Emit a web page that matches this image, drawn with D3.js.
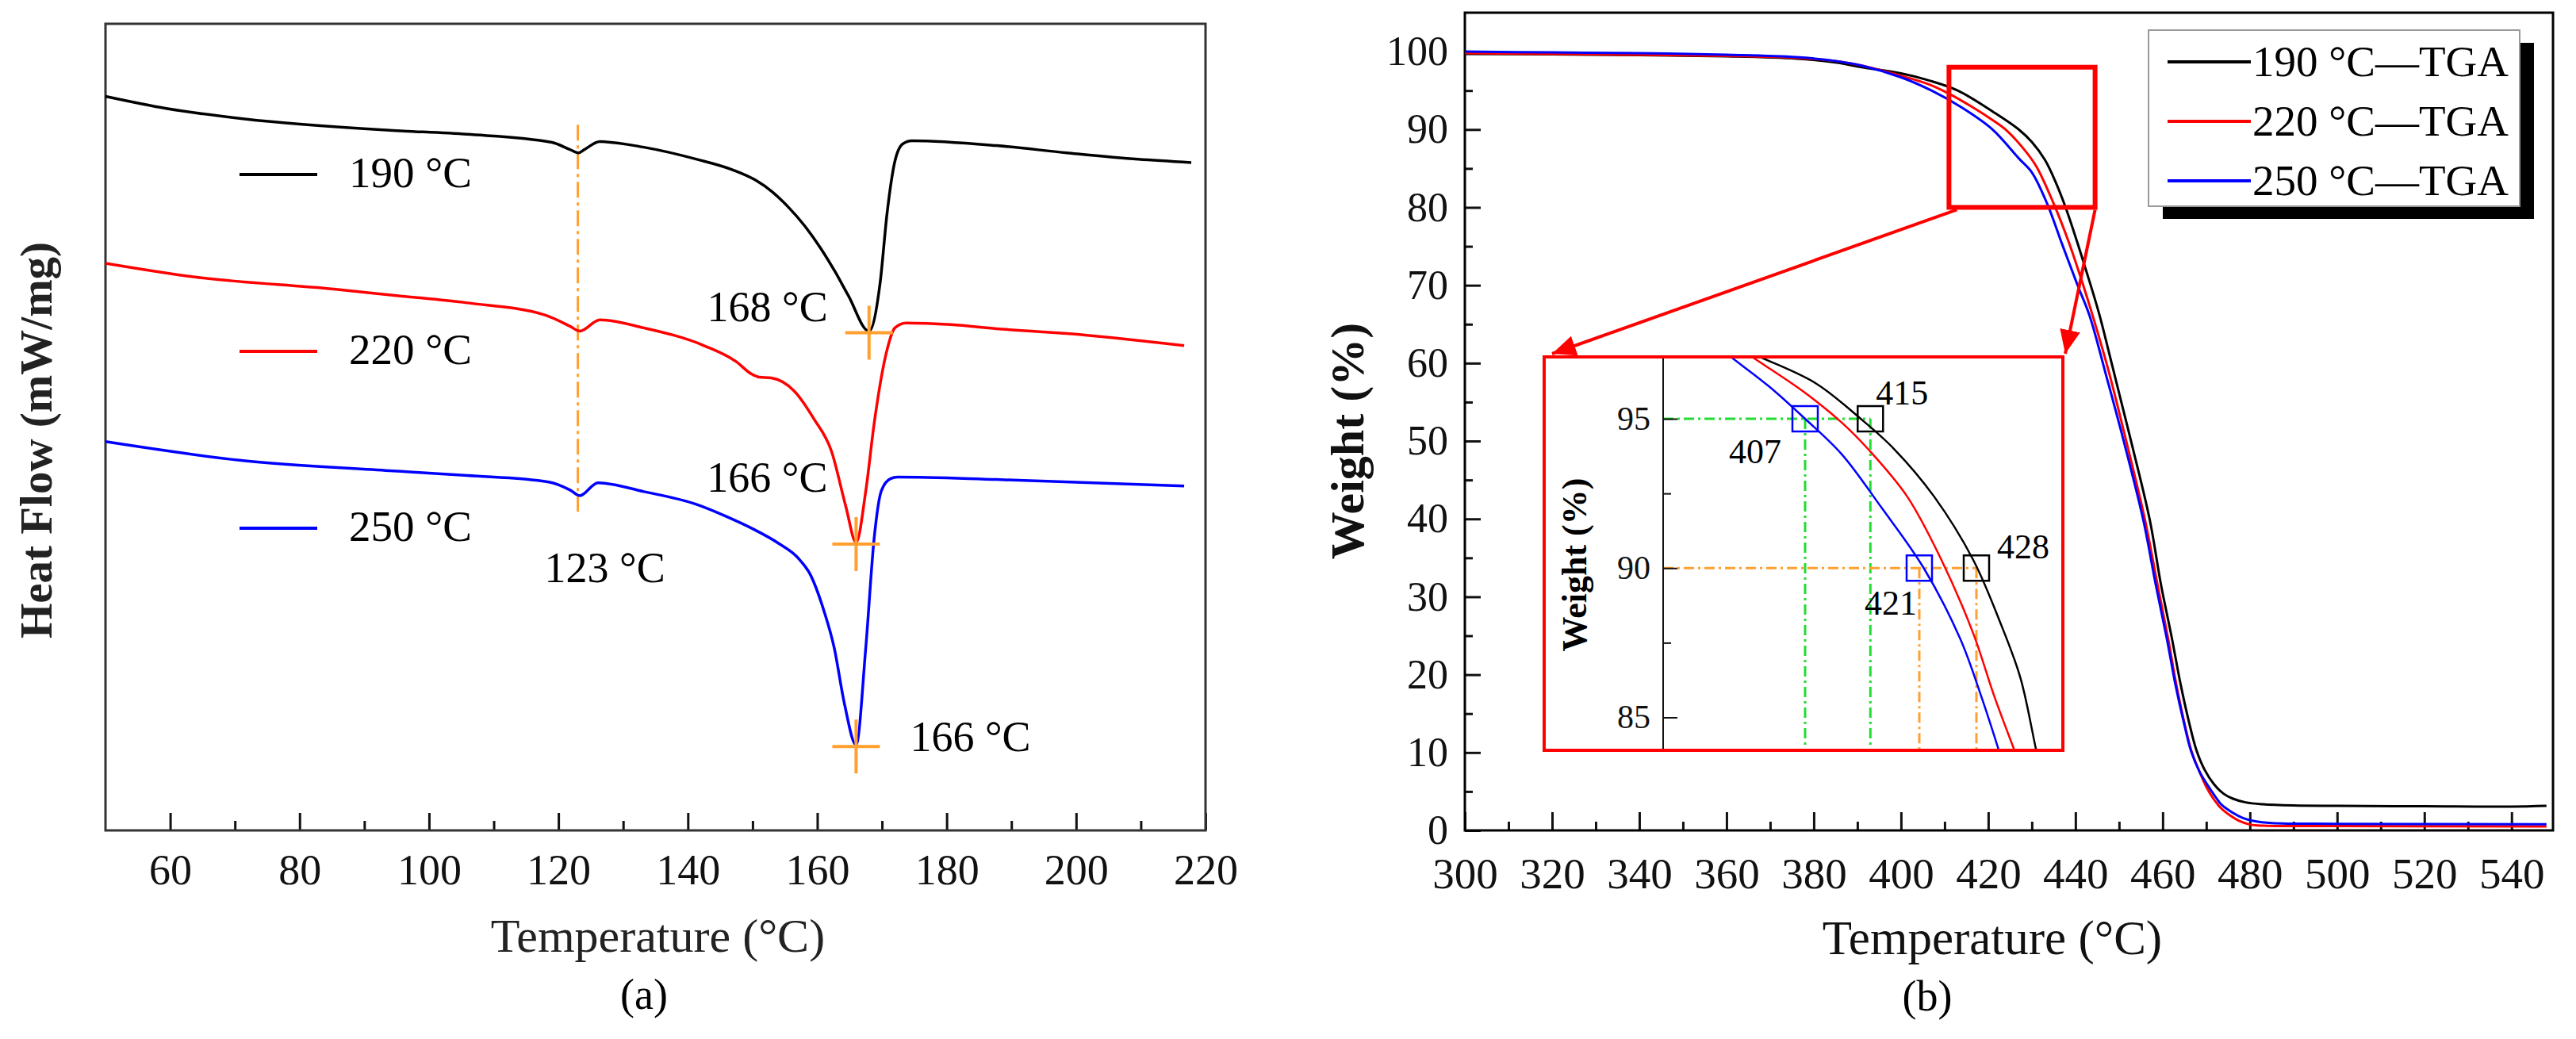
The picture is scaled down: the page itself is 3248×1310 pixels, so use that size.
<!DOCTYPE html>
<html>
<head>
<meta charset="utf-8">
<script src="https://cdn.jsdelivr.net/npm/d3@7"></script>
<style>
  body { margin: 0; background: #fff; }
</style>
</head>
<body>
<div id="chart"></div>
<script>
'use strict';

// ---------- (a) DSC: [temperature (°C), heat flow (arb. units)]
var dsc190 = [[50,91.0],[59.4,89.5],[71.5,88.2],[93.9,86.8],[105.9,86.3],[119,85.3],[121.8,84.4],[123.1,84.0],
    [124,84.4],[126.4,85.4],[133.2,84.7],[141.4,83.2],[146.9,81.9],[150.5,80.6],[153,79.2],[155.5,77.3],
    [158,75.0],[160.5,72.2],[162.8,69.2],[164.8,66.3],[168,61.9],[169.7,67.8],[170.8,76.6],[171.9,82.6],
    [173.2,85.1],[174.6,85.5],[187.7,84.9],[198.6,84.0],[209.6,83.2],[217.8,82.8]];
var dsc220 = [[50,70.3],[63.8,68.6],[85.3,67.1],[95,66.3],[105.9,65.4],[117.9,63.9],[121.8,62.5],[123.3,61.9],
    [126.4,63.3],[133.2,62.3],[142.5,60.1],[147.5,58.1],[149.8,56.6],[151,56.2],[152.9,56.1],[156.4,54.5],
    [159.5,51.0],[162.2,47.0],[164.4,40.2],[166,35.7],[167.5,42.1],[168.8,50.5],[170.7,59.3],[172,62.3],
    [173.7,62.9],[180.7,62.7],[187.7,62.2],[198.6,61.6],[216.7,60.1]];
var dsc250 = [[50,48.2],[70.7,45.9],[93.9,44.6],[105.9,44.0],[118.5,43.2],[121.8,42.2],[123.3,41.5],[126.1,43.1],
    [133.2,42.0],[141.4,40.4],[146,38.9],[150,37.4],[154,35.6],[157,33.8],[159,31.6],[161,27.3],[162.6,22.7],
    [164.2,15.7],[166,10.6],[167.5,22.7],[168.8,36.3],[169.9,42.1],[171.3,43.6],[172.4,43.8],[187.7,43.5],
    [216.7,42.7]];
var dscNames = ['190 °C', '220 °C', '250 °C'];
var dscPeakNames = ['168 °C', '166 °C', '166 °C'];
var dscTicks = [60, 80, 100, 120, 140, 160, 180, 200, 220];
var dscMinor = [70, 90, 110, 130, 150, 170, 190, 210];
var glassT = 123, glassSpan = [39, 87.5];

// ---------- (b) TGA: [temperature (°C), weight (%)]
var tga190 = [[300,99.7],[320,99.65],[340,99.55],[360,99.4],[376,99.1],[385,98.6],[391,98.0],[400,97.2],
    [406.4,96.3],[413,95.0],[421.3,92.2],[427,90.0],[430,88.4],[433,86.1],[435.5,83.2],[438,79.6],[441,74.5],
    [443.5,70],[445.5,66.2],[448.3,60],[452.3,51],[457,40],[459.6,31.6],[462,25],[464.1,18.8],[466,14],
    [467.8,10.2],[469.6,7.8],[471.8,5.9],[474,4.7],[476,4.1],[479,3.6],[483,3.35],[490,3.2],[500,3.15],
    [520,3.1],[540,3.05],[548,3.15]];
var tga220 = [[300,99.8],[320,99.7],[340,99.6],[360,99.45],[376,99.2],[385,98.8],[391,98.2],[400,96.9],
    [406.4,95.8],[411,94.6],[416,93.0],[421.3,91.1],[424,90.0],[428,87.6],[431,85.3],[435,80.5],[438.5,75.5],
    [441.5,70.5],[444,66],[447.6,59],[451.2,51],[455.9,40],[458.8,31.6],[461.3,24.5],[463.1,18.8],
    [465.1,13.5],[466.6,10.2],[468.4,7.6],[470,5.6],[471.6,4.1],[473.3,2.9],[475.5,1.9],[477.6,1.2],
    [480,0.75],[483,0.6],[500,0.55],[548,0.5]];
var tga250 = [[300,100.0],[320,99.9],[340,99.8],[360,99.6],[376,99.3],[385,98.8],[391,98.2],[400,96.7],
    [407,95.0],[414,92.8],[421,90.0],[427,86.3],[430,84.5],[433.5,80.5],[437,75.2],[440.5,70],[443.3,66],
    [447,58.5],[450.6,51],[455.5,40],[458.4,31.6],[461,24.5],[462.9,18.8],[465,13.5],[466.5,10.2],
    [468.4,7.6],[470.2,5.9],[472,4.4],[473.5,3.3],[476,2.3],[478.4,1.6],[481,1.2],[485,0.95],[500,0.85],
    [548,0.8]];
var tgaNames = ['190 °C—TGA', '220 °C—TGA', '250 °C—TGA'];
var tgaTicksX = [300, 320, 340, 360, 380, 400, 420, 440, 460, 480, 500, 520, 540];
var tgaMinorX = [310, 330, 350, 370, 390, 410, 430, 450, 470, 490, 510, 530];
var tgaTicksY = [0, 10, 20, 30, 40, 50, 60, 70, 80, 90, 100];
var tgaMinorY = [5, 15, 25, 35, 45, 55, 65, 75, 85, 95];
var zoomT = [411, 444.5], zoomW = [80, 98];

// inset (magnified 95 % / 90 % region)
var inset190 = [[398.2,97.5],[401.5,97.07],[408.3,96.19],[413.9,94.98],[417.9,93.99],[422.8,92.4],
    [427.6,90.28],[430.8,88.26],[433.4,86.32],[435.3,83.94],[435.7,83.5]];
var inset220 = [[398.2,97.5],[400.5,97.07],[406.7,95.93],[411.5,94.87],[414.7,93.99],[419.5,92.4],
    [423.7,90.28],[427.6,87.82],[430.2,85.7],[432.6,83.94],[433.2,83.5]];
var inset250 = [[395.9,97.5],[397.9,97.07],[402.5,96.1],[407,95.0],[411.5,93.81],[416.3,92.05],
    [421.5,90.02],[426,87.64],[428.6,85.7],[430.7,83.94],[431.2,83.5]];
var insetTicks = [85, 90, 95];
var insetMinor = [87.5, 92.5];
var mark190 = [[415, 95], [428, 90]];
var mark250 = [[407, 95], [421, 90]];

var COLORS = ['#000000', '#ff0000', '#0000ff'];
var SERIF = '"Liberation Serif", "Times New Roman", serif';
var ORANGE = '#ffa030', GREEN = '#22dd33';

var svg = d3.select('#chart').append('svg')
    .attr('width', 3248)
    .attr('height', 1310)
    .attr('font-family', SERIF)
    .style('background', '#fff');

var defs = svg.append('defs');
defs.append('marker')
    .attr('id', 'arrow')
    .attr('markerUnits', 'userSpaceOnUse')
    .attr('markerWidth', 32).attr('markerHeight', 28)
    .attr('refX', 30).attr('refY', 13)
    .attr('orient', 'auto')
    .append('path').attr('d', 'M0,0L30,13L0,26Z').attr('fill', '#ff0000');

function styleAxis(g, size) {
    g.attr('font-family', SERIF).attr('font-size', size);
    g.select('.domain').remove();
    g.selectAll('line').attr('stroke', '#111').attr('stroke-width', 3);
    g.selectAll('text').attr('fill', '#111');
}

// ================= (a) DSC =================
var xa = d3.scaleLinear().domain([50, 220]).range([133, 1520]);
var ya = d3.scaleLinear().domain([0, 100]).range([1047, 30]);
var ga = svg.append('g');

var axA = ga.append('g').attr('transform', 'translate(0,1047)')
    .call(d3.axisBottom(xa).tickValues(dscTicks).tickSize(-22).tickFormat(d3.format('d')));
styleAxis(axA, 54);
axA.selectAll('text').attr('y', 68).attr('dy', null);

var axAm = ga.append('g').attr('transform', 'translate(0,1047)')
    .call(d3.axisBottom(xa).tickValues(dscMinor).tickSize(-12).tickFormat(''));
styleAxis(axAm, 10);

ga.append('rect')
    .attr('x', xa(50)).attr('y', ya(100))
    .attr('width', xa(220) - xa(50)).attr('height', ya(0) - ya(100))
    .attr('fill', 'none').attr('stroke', '#333').attr('stroke-width', 3);

// glass transition guide
ga.append('line')
    .attr('x1', xa(glassT)).attr('x2', xa(glassT))
    .attr('y1', ya(glassSpan[1])).attr('y2', ya(glassSpan[0]))
    .attr('stroke', ORANGE).attr('stroke-width', 3)
    .attr('stroke-dasharray', '20,6,4,6');

var lineA = d3.line()
    .x(function (d) { return xa(d[0]); })
    .y(function (d) { return ya(d[1]); })
    .curve(d3.curveMonotoneX);

var dscAll = [dsc190, dsc220, dsc250];
dscAll.forEach(function (s, i) {
    ga.append('path').datum(s)
        .attr('d', lineA)
        .attr('fill', 'none')
        .attr('stroke', COLORS[i])
        .attr('stroke-width', 3.5)
        .attr('stroke-linejoin', 'round');
});

// melting peak crosses
var pk = dscAll.map(function (s) { return d3.least(s, function (d) { return d[1]; }); });
pk.forEach(function (p) {
    var cx = xa(p[0]), cy = ya(p[1]);
    ga.append('line').attr('x1', cx - 30).attr('x2', cx + 30).attr('y1', cy + 2).attr('y2', cy + 2)
        .attr('stroke', ORANGE).attr('stroke-width', 4);
    ga.append('line').attr('x1', cx).attr('x2', cx).attr('y1', cy - 32).attr('y2', cy + 36)
        .attr('stroke', ORANGE).attr('stroke-width', 4);
});

// peak labels
var pkOffsets = [[-52, -12, 'end'], [-36, -64, 'end'], [68, 8, 'start']];
pk.forEach(function (p, i) {
    ga.append('text')
        .attr('x', xa(p[0]) + pkOffsets[i][0])
        .attr('y', ya(p[1]) + pkOffsets[i][1])
        .attr('text-anchor', pkOffsets[i][2])
        .attr('font-size', 54)
        .text(dscPeakNames[i]);
});
ga.append('text')
    .attr('x', xa(glassT) - 42).attr('y', 734)
    .attr('font-size', 54)
    .text(glassT + ' °C');

// legend (a)
var legAy = [220, 443, 666];
dscNames.forEach(function (n, i) {
    ga.append('line').attr('x1', 302).attr('x2', 400).attr('y1', legAy[i]).attr('y2', legAy[i])
        .attr('stroke', COLORS[i]).attr('stroke-width', 4);
    ga.append('text').attr('x', 440).attr('y', legAy[i] + 16)
        .attr('font-size', 55).text(n);
});

ga.append('text')
    .attr('x', (xa(50) + xa(220)) / 2 + 3).attr('y', 1200)
    .attr('text-anchor', 'middle').attr('font-size', 60).attr('fill', '#222')
    .text('Temperature (°C)');
ga.append('text')
    .attr('transform', 'translate(65,555) rotate(-90)')
    .attr('text-anchor', 'middle').attr('font-size', 57).attr('font-weight', 'bold').attr('fill', '#222')
    .text('Heat Flow (mW/mg)');
ga.append('text')
    .attr('x', 812).attr('y', 1272)
    .attr('text-anchor', 'middle').attr('font-size', 54)
    .text('(a)');

// ================= (b) TGA =================
var xb = d3.scaleLinear().domain([300, 549.5]).range([1847, 3219]);
var yb = d3.scaleLinear().domain([0, 105]).range([1047, 16]);
var gb = svg.append('g');

var axBx = gb.append('g').attr('transform', 'translate(0,1047)')
    .call(d3.axisBottom(xb).tickValues(tgaTicksX).tickSize(-23).tickFormat(d3.format('d')));
styleAxis(axBx, 55);
axBx.selectAll('text').attr('y', 73).attr('dy', null);
var axBxm = gb.append('g').attr('transform', 'translate(0,1047)')
    .call(d3.axisBottom(xb).tickValues(tgaMinorX).tickSize(-11).tickFormat(''));
styleAxis(axBxm, 10);

var axBy = gb.append('g').attr('transform', 'translate(1847,0)')
    .call(d3.axisLeft(yb).tickValues(tgaTicksY).tickSize(-20).tickFormat(d3.format('d')));
styleAxis(axBy, 52);
axBy.selectAll('text').attr('x', -21);
var axBym = gb.append('g').attr('transform', 'translate(1847,0)')
    .call(d3.axisLeft(yb).tickValues(tgaMinorY).tickSize(-10).tickFormat(''));
styleAxis(axBym, 10);

gb.append('rect')
    .attr('x', xb.range()[0]).attr('y', yb(105))
    .attr('width', xb.range()[1] - xb.range()[0]).attr('height', yb(0) - yb(105))
    .attr('fill', 'none').attr('stroke', '#000').attr('stroke-width', 3);

var lineB = d3.line()
    .x(function (d) { return xb(d[0]); })
    .y(function (d) { return yb(d[1]); })
    .curve(d3.curveCatmullRom.alpha(0.5));

[tga190, tga220, tga250].forEach(function (s, i) {
    gb.append('path').datum(s)
        .attr('d', lineB)
        .attr('fill', 'none')
        .attr('stroke', COLORS[i])
        .attr('stroke-width', 3);
});

// magnified region + arrows
gb.append('rect')
    .attr('x', xb(zoomT[0])).attr('y', yb(zoomW[1]))
    .attr('width', xb(zoomT[1]) - xb(zoomT[0])).attr('height', yb(zoomW[0]) - yb(zoomW[1]))
    .attr('fill', 'none').attr('stroke', '#ff0000').attr('stroke-width', 6);

var INSET = { x0: 1947, x1: 2601, y0: 450, y1: 946, axis: 2097 };

gb.append('line')
    .attr('x1', xb(zoomT[0]) + 10).attr('y1', yb(zoomW[0]) + 3)
    .attr('x2', INSET.x0 + 10).attr('y2', INSET.y0 - 4)
    .attr('stroke', '#ff0000').attr('stroke-width', 4)
    .attr('marker-end', 'url(#arrow)');
gb.append('line')
    .attr('x1', xb(zoomT[1])).attr('y1', yb(zoomW[0]) + 3)
    .attr('x2', INSET.x1 + 3).attr('y2', INSET.y0 - 4)
    .attr('stroke', '#ff0000').attr('stroke-width', 4)
    .attr('marker-end', 'url(#arrow)');

// inset
var gi = gb.append('g');
gi.append('rect')
    .attr('x', INSET.x0).attr('y', INSET.y0)
    .attr('width', INSET.x1 - INSET.x0).attr('height', INSET.y1 - INSET.y0)
    .attr('fill', '#fff');

var xi = d3.scaleLinear().domain([407, 428]).range([2276, 2492]);
var yi = d3.scaleLinear().domain([85, 95]).range([904.5, 528]);

defs.append('clipPath').attr('id', 'insetClip')
    .append('rect')
    .attr('x', INSET.axis).attr('y', INSET.y0)
    .attr('width', INSET.x1 - INSET.axis).attr('height', INSET.y1 - INSET.y0);

var yBottom = yi.invert(INSET.y1), xLeft = xi.invert(INSET.axis);

// guide lines 95 % (green) and 90 % (orange)
function guide(a, b, color) {
    var w = a[1];
    gi.append('line')
        .attr('x1', xi(xLeft)).attr('x2', xi(a[0]))
        .attr('y1', yi(w)).attr('y2', yi(w))
        .attr('stroke', color).attr('stroke-width', 3).attr('stroke-dasharray', '13,5,3,5');
    [a[0], b[0]].forEach(function (t) {
        gi.append('line')
            .attr('x1', xi(t)).attr('x2', xi(t))
            .attr('y1', yi(w)).attr('y2', yi(yBottom))
            .attr('stroke', color).attr('stroke-width', 3).attr('stroke-dasharray', '13,5,3,5');
    });
}
guide(mark190[0], mark250[0], GREEN);
guide(mark190[1], mark250[1], ORANGE);

var lineI = d3.line()
    .x(function (d) { return xi(d[0]); })
    .y(function (d) { return yi(d[1]); })
    .curve(d3.curveCatmullRom.alpha(0.5));

var gic = gi.append('g').attr('clip-path', 'url(#insetClip)');
[inset190, inset220, inset250].forEach(function (s, i) {
    gic.append('path').datum(s)
        .attr('d', lineI)
        .attr('fill', 'none')
        .attr('stroke', COLORS[i])
        .attr('stroke-width', 2.5);
});

[[mark190, COLORS[0]], [mark250, COLORS[2]]].forEach(function (m) {
    m[0].forEach(function (d) {
        gi.append('rect')
            .attr('x', xi(d[0]) - 16).attr('y', yi(d[1]) - 16)
            .attr('width', 32).attr('height', 32)
            .attr('fill', 'none').attr('stroke', m[1]).attr('stroke-width', 2.5);
    });
});

var markLabels = [
    [mark190[0], 7, -18, 'start'],
    [mark250[0], -30, 56, 'end'],
    [mark190[1], 26, -12, 'start'],
    [mark250[1], -3, 59, 'end']
];
markLabels.forEach(function (l) {
    gi.append('text')
        .attr('x', xi(l[0][0]) + l[1]).attr('y', yi(l[0][1]) + l[2])
        .attr('text-anchor', l[3]).attr('font-size', 44)
        .text(l[0][0]);
});

var axI = gi.append('g').attr('transform', 'translate(' + INSET.axis + ',0)')
    .call(d3.axisLeft(yi).tickValues(insetTicks).tickSize(-18).tickFormat(d3.format('d')));
styleAxis(axI, 42);
axI.selectAll('line').attr('stroke-width', 2);
axI.selectAll('text').attr('x', -16);
var axIm = gi.append('g').attr('transform', 'translate(' + INSET.axis + ',0)')
    .call(d3.axisLeft(yi).tickValues(insetMinor).tickSize(-10).tickFormat(''));
styleAxis(axIm, 10);
axIm.selectAll('line').attr('stroke-width', 2);

gi.append('line')
    .attr('x1', INSET.axis).attr('x2', INSET.axis)
    .attr('y1', INSET.y0).attr('y2', INSET.y1)
    .attr('stroke', '#111').attr('stroke-width', 2);

gi.append('rect')
    .attr('x', INSET.x0).attr('y', INSET.y0)
    .attr('width', INSET.x1 - INSET.x0).attr('height', INSET.y1 - INSET.y0)
    .attr('fill', 'none').attr('stroke', '#ff0000').attr('stroke-width', 4);

gi.append('text')
    .attr('transform', 'translate(2000,712) rotate(-90)')
    .attr('text-anchor', 'middle').attr('font-size', 44).attr('font-weight', 'bold')
    .text('Weight (%)');

// legend (b)
var lg = gb.append('g');
lg.append('rect').attr('x', 2727).attr('y', 54).attr('width', 468).attr('height', 222).attr('fill', '#000');
lg.append('rect').attr('x', 2709).attr('y', 38).attr('width', 468).attr('height', 222)
    .attr('fill', '#fff').attr('stroke', '#999').attr('stroke-width', 2);
tgaNames.forEach(function (n, i) {
    var y = 78 + i * 75;
    lg.append('line').attr('x1', 2733).attr('x2', 2838).attr('y1', y).attr('y2', y)
        .attr('stroke', COLORS[i]).attr('stroke-width', 4);
    lg.append('text').attr('x', 2840).attr('y', y + 18)
        .attr('font-size', 55).text(n);
});

gb.append('text')
    .attr('x', 2512).attr('y', 1203)
    .attr('text-anchor', 'middle').attr('font-size', 61).attr('fill', '#111')
    .text('Temperature (°C)');
gb.append('text')
    .attr('transform', 'translate(1719,556) rotate(-90)')
    .attr('text-anchor', 'middle').attr('font-size', 60).attr('font-weight', 'bold').attr('fill', '#111')
    .text('Weight (%)');
gb.append('text')
    .attr('x', 2430).attr('y', 1274)
    .attr('text-anchor', 'middle').attr('font-size', 54)
    .text('(b)');
</script>
</body>
</html>
